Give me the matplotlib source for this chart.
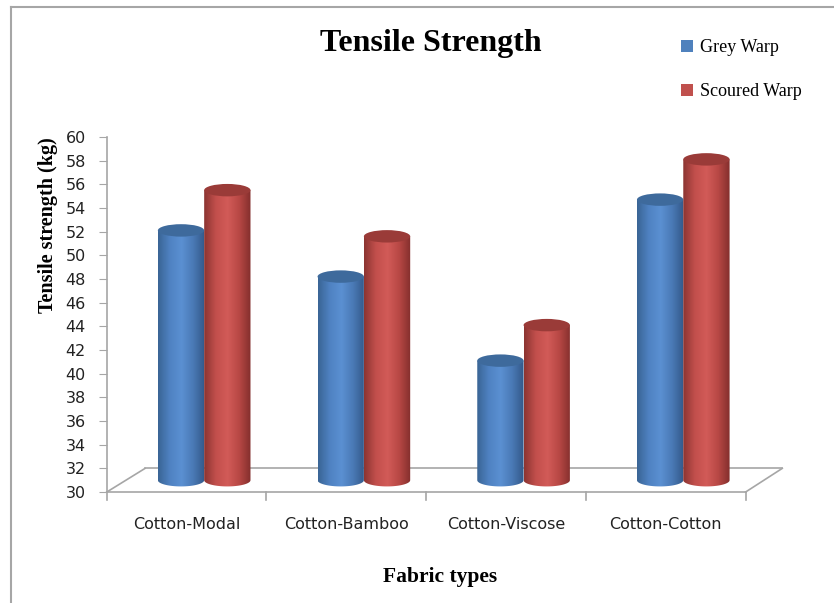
import numpy as np
import matplotlib
matplotlib.use("Agg")
import matplotlib.pyplot as plt
from matplotlib.patches import Ellipse, PathPatch, Patch
from matplotlib.path import Path
from matplotlib.colors import LinearSegmentedColormap
from matplotlib.lines import Line2D

categories = ['Cotton-Modal', 'Cotton-Bamboo', 'Cotton-Viscose', 'Cotton-Cotton']
grey_warp = [51.1, 47.2, 40.1, 53.7]
scoured_warp = [54.5, 50.6, 43.1, 57.1]
series_names = ['Grey Warp', 'Scoured Warp']
yticks = list(range(30, 61, 2))

# 3D look: bars sit in the middle of the floor depth
dz = 1.0       # floor depth in y units
dx = 0.11      # horizontal shift from perspective
bw = 0.29
eh = 1.05      # ellipse height (y units)

fig = plt.figure(figsize=(8.34, 6.03), dpi=100)
ax = fig.add_axes([0.128, 0.184, 0.81, 0.589])
ax.set_xlim(-0.5, 3.73)
ax.set_ylim(30, 60)

grey = '#a6a6a6'
for s in ['top', 'right', 'bottom']:
    ax.spines[s].set_visible(False)
ax.spines['left'].set_color(grey)
ax.spines['left'].set_linewidth(1.2)
ax.set_yticks(yticks)
ax.tick_params(axis='y', direction='out', length=6, color=grey, labelsize=11.5, pad=9, labelcolor='#222222')
ax.set_xticks([])

# floor
ax.plot([-0.5, 3.5], [30, 30], color=grey, lw=1.2, clip_on=False)
ax.plot([-0.5, -0.5 + 0.24], [30, 32], color=grey, lw=1.2, clip_on=False)
ax.plot([-0.5 + 0.24, 3.73], [32, 32], color=grey, lw=1.2, clip_on=False)
ax.plot([3.5, 3.73], [30, 32], color=grey, lw=1.2, clip_on=False)
for xt in np.arange(-0.5, 3.6, 1.0):
    ax.plot([xt, xt], [30, 29.3], color=grey, lw=1.2, clip_on=False)
for i, c in enumerate(categories):
    ax.text(i, 27.3, c, ha='center', va='center', fontsize=11.5, color='#222222')

cmaps = [
    LinearSegmentedColormap.from_list('b', ['#3a6595', '#4f82c2', '#5b90d2', '#4a7ab6', '#33598a']),
    LinearSegmentedColormap.from_list('r', ['#8c3532', '#c24f4c', '#d25b58', '#b84845', '#842f2d']),
]
tops = ['#3e6a9c', '#9a3b38']
x = np.arange(len(categories))
for k, vals in enumerate([grey_warp, scoured_warp]):
    xs = x + dx + (k - 0.5) * bw
    for cx, v in zip(xs, vals):
        base = 30 + dz
        top = v + dz
        t = np.linspace(np.pi, 2 * np.pi, 40)
        px = list(cx + bw / 2 * np.cos(t)) + [cx + bw / 2, cx - bw / 2]
        py = list(base + eh / 2 * np.sin(t)) + [top, top]
        verts = list(zip(px, py)) + [(px[0], py[0])]
        codes = [Path.MOVETO] + [Path.LINETO] * (len(verts) - 2) + [Path.CLOSEPOLY]
        patch = PathPatch(Path(verts, codes), facecolor='none', edgecolor='none', transform=ax.transData)
        ax.add_patch(patch)
        grad = np.linspace(0, 1, 100).reshape(1, -1)
        im = ax.imshow(grad, cmap=cmaps[k], aspect='auto', interpolation='bicubic',
                       extent=(cx - bw / 2, cx + bw / 2, base - eh, top), zorder=2)
        im.set_clip_path(patch)
        ax.add_patch(Ellipse((cx, top), bw, eh, facecolor=tops[k], edgecolor='none', zorder=3))
ax.set_xlim(-0.5, 3.73)
ax.set_ylim(30, 60)

fig.text(0.516, 0.928, 'Tensile Strength', ha='center', va='center',
         family='Liberation Serif', fontweight='bold', fontsize=23)
fig.text(0.528, 0.043, 'Fabric types', ha='center', va='center',
         family='Liberation Serif', fontweight='bold', fontsize=15.5)
fig.text(0.057, 0.627, 'Tensile strength (kg)', ha='center', va='center', rotation=90,
         family='Liberation Serif', fontweight='bold', fontsize=14.5)

handles = [Patch(facecolor='#4f81bd'), Patch(facecolor='#c0504d')]
fig.legend(handles, series_names, loc='upper left', bbox_to_anchor=(0.797, 0.962),
           frameon=False, prop={'family': 'Liberation Serif', 'size': 13},
           handlelength=0.65, handleheight=0.65, handletextpad=0.4, labelspacing=1.5)

# outer frame (left and top)
fig.add_artist(Line2D([0.0135, 0.0135], [0, 0.988], color='#a6a6a6', lw=1.5))
fig.add_artist(Line2D([0.0135, 1.0], [0.988, 0.988], color='#a6a6a6', lw=1.5))

fig.savefig('out.png', dpi=100)
